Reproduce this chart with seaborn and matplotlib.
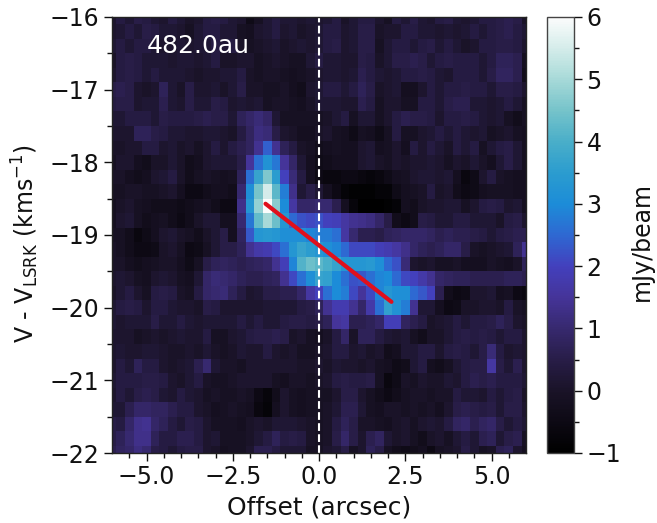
import matplotlib
matplotlib.use('Agg')
import matplotlib.pyplot as plt
import pandas as pd
import seaborn as sns
from matplotlib.colors import LinearSegmentedColormap

# pixel centres: offset -6..6 in 0.25 steps, velocity -16..-22 in 0.2 steps
offsets = [-6 + 0.25 * i for i in range(49)]
velocities = [-16 - 0.2 * i for i in range(31)]

flux = [
    [.1,.4,.2,.5,.4,.2,.1, .4,.2,.0,.1,.4,.5,.4, .2,.1,-.4,-.1,.2,.4,.2, .2,.1,.2,.1,.2,.4,.0, .2,.4,.4,.1,-.1,.4,.2, .5,.2,.1,.4,.5,.2,.1, .2,.4,.4,.5,.6,.5,.0],
    [.1,.2,.4,.2,.5,.4,.2, .2,.1,-.1,.2,.4,.4,.2, .2,-.1,-.2,.1,.2,.4,.1, .2,.0,.1,.2,.4,.4,.1, .2,.5,.5,.0,.1,.1,.4, .4,.2,.2,.1,.2,.1,.2, .4,.2,.4,.5,.6,.4,.2],
    [.2,.4,.2,.4,.4,.2,.1, .1,.2,.1,.2,.2,.4,.2, .4,.0,-.1,.0,.1,.2,.0, .1,.2,.1,.2,.4,.5,.1, .2,.5,.5,-.1,.2,.4,.4, .2,.4,.5,.2,.4,.2,.0, .1,.4,.4,.5,.5,.4,.1],
    [.0,.4,.5,.4,.2,.2,.2, .1,.2,.2,.1,.2,.4,.0, .0,.1,.1,-.1,.0,.1,.0, -.1,-.1,.2,.4,.2,.2,.1, .1,.5,.4,.0,.2,.5,.5, .6,.5,.2,.4,.5,.4,.4, .4,.2,.4,.7,.7,.6,-.2],
    [.1,.4,.5,.4,.2,.4,.2, .2,.2,.1,.0,.1,.1,.2, .2,.4,.0,-.1,.0,.0,-.1, -.2,-.1,.0,.1,.2,.2,.1, .2,.6,.4,.2,.1,.2,.4, .4,.5,.4,.2,.1,.4,.4, .4,.2,.5,.8,.8,.6,-.3],
    [.5,.6,.5,.1,.0,.1,.7, .2,.0,.5,.1,.1,.2,.0, .2,.5,.0,.0,-.1,-.1,.0, -.2,-.3,.1,.2,.4,.4,.2, .4,.7,.5,.0,.1,.2,-.2, -.2,.1,.4,.2,.4,.4,.5, .4,.4,.2,.5,.5,.4,.1],
    [.4,.5,.5,.1,.2,.2,.6, .2,.1,.5,.2,.2,.5,.4, .1,.2,.1,.2,-.1,.0,.0, -.1,-.2,.0,.2,.2,.2,.1, .1,.6,.4,-.1,.1,.1,-.1, -.1,.4,.4,.2,.5,.6,.6, .2,.2,.1,.2,.4,.2,-.1],
    [.2,.2,.4,.4,.4,.2,.5, .4,.4,.4,.5,.6,.5,.5, .2,.7,.9,1.1,.9,.2,-.1, -.1,-.1,-.1,-.1,.0,.2,.4, -.1,.2,.2,-.1,.1,.4,.6, .5,.5,.4,.1,.4,.4,.5, .4,.2,.1,.2,-.1,-.3,-.1],
    [.1,.1,.1,.7,.7,.5,.4, .2,.2,.1,.1,.2,.2,.1, .0,.4,.8,1.2,1.1,.5,.1, .0,-.2,-.2,.0,.1,-.1,-.2, -.4,-.1,-.2,-.4,-.1,.4,-.1, -.1,.1,.2,.4,.2,.4,.2, .1,.2,-.1,.0,.1,-.1,-.2],
    [.0,.0,.1,.1,.4,.4,.1, .2,.0,.1,-.1,.1,.4,.1, .4,.6,.8,1.4,2.4,1.4,.7, .4,.0,-.1,-.3,-.2,-.1,-.2, -.2,.1,.2,-.2,-.1,.1,-.2, .4,.1,.4,.2,.0,.4,.2, .4,-.1,.2,.4,.5,.2,-.2],
    [-.1,.1,.1,-.2,-.3,.0,.0, .2,.0,-.3,-.2,.1,.2,.2, .2,.5,1.5,2.6,3.2,2.7,1.5, .9,.2,-.2,-.4,-.3,-.2,-.2, -.2,.1,.2,.0,-.1,.1,.0, .1,.1,.2,.1,-.1,.1,.0, .2,.0,-.2,.2,.5,.2,-.2],
    [.0,.0,-.2,-.3,-.2,.1,.2, .4,.0,-.3,-.1,.0,-.1,-.2, -.1,.7,2.6,3.7,4.6,3.5,2.0, 1.1,.4,-.2,-.5,-.6,-.6,-.5, -.5,-.6,-.7,-.6,-.4,-.2,-.1, .1,.2,.2,.1,.2,-.2,-.6, -.4,.1,.4,.0,-.1,-.2,-.2],
    [-.1,-.1,.0,.0,-.1,-.1,.0, .1,-.2,-.5,-.5,-.3,-.2,-.2, -.3,1.0,3.1,4.5,5.5,4.2,2.8, 1.3,.2,.5,.2,-.2,-.5,-.8, -.9,-.9,-.9,-.8,-.8,-.4,-.2, -.1,.0,.4,.0,.1,-.3,-.5, -.4,-.2,-.1,-.1,-.1,-.2,-.2],
    [-.2,.0,.1,-.1,-.2,-.3,-.3, -.3,-.4,-.3,-.2,-.1,-.3,-.5, -.5,1.3,3.3,4.8,6.0,4.7,3.0, 1.6,.9,.9,1.0,1.0,.6,-.2, -.7,-1.0,-1.0,-1.0,-.9,-.8,-.2, -.3,.0,.1,.1,.2,.2,-.1, .1,.4,.5,.4,.1,.2,-.2],
    [-.2,.1,.2,-.1,-.3,-.2,-.1, -.3,-.5,-.3,.0,.2,.2,-.2, -.2,1.0,2.7,4.3,5.0,4.4,3.3, 2.5,2.2,2.1,2.2,2.0,1.9,1.6, 1.4,1.3,1.2,.9,.5,-.3,-.5, -.3,.5,.4,.2,.2,.4,.4, .2,.2,.2,.0,.4,.5,.1],
    [-.1,-.1,-.3,-.6,-.4,-.2,.1, .2,.0,-.1,-.3,.0,.2,.5, -.2,.8,2.3,3.3,3.4,3.3,3.1, 3.1,3.1,2.9,2.8,2.8,2.6,1.6, 1.0,.6,.6,.5,.7,.8,.9, .9,.9,.8,.6,.7,.6,.6, .5,.4,.2,.4,.5,.6,.6],
    [.0,-.1,-.3,-.5,-.5,-.4,.0, .1,-.1,-.5,-.4,-.1,.2,.5, .5,.7,1.4,1.7,1.8,2.1,2.6, 3.3,3.7,3.5,3.3,3.1,2.9,2.5, 2.1,2.1,2.1,1.9,1.8,1.6,1.3, .9,.7,.6,.7,.9,.9,.5, .0,-.1,.0,.1,.2,.7,1.4],
    [.0,.0,-.2,-.3,-.2,-.1,.0, .0,-.2,-.4,-.1,.5,.7,.8, .7,.6,.7,.8,.9,1.4,1.9, 2.9,4.1,4.4,4.2,4.0,3.7,3.3, 3.3,3.3,3.4,3.1,2.5,2.2,1.1, .1,.0,.1,-.1,-.1,.0,-.2, -.2,-.2,.0,-.1,-.2,.0,.7],
    [.1,.2,.1,-.1,-.2,.1,.2, .1,-.1,-.2,.2,.9,1.1,1.0, .9,.7,.6,.6,.7,.8,1.4, 2.1,2.6,3.1,3.7,3.6,3.0,2.6, 2.2,2.3,2.6,2.9,3.0,2.5,2.1, 2.0,1.7,1.4,.9,.8,.7,.7, .6,.6,.6,.6,.7,.7,.6],
    [.0,.2,.4,.1,-.1,.4,.5, .4,.0,-.1,.4,.9,1.0,1.1, .7,.4,.1,.2,.5,.5,.6, .6,.9,1.6,2.0,2.6,3.0,2.8, 2.1,1.5,2.1,2.9,3.3,3.1,3.1, 2.5,2.3,2.0,.6,-.3,-.5,-.4, .1,.1,.2,-.2,-.1,-.5,-.6],
    [.2,.4,.5,.4,.1,.4,.4, .2,.1,.1,.0,.5,.4,.1, .1,.1,.1,.1,.2,.2,.2, .2,.4,.5,.7,1.4,1.8,1.8, 1.4,.9,1.7,2.6,3.6,3.2,2.8, 1.4,.2,.2,-.2,-.5,-.4,.0, .0,.1,.1,.0,.4,.0,-.1],
    [.2,.1,.2,.2,.2,.5,.2, .2,.4,.2,.1,.2,.2,.2, .2,.4,.2,.4,.2,.2,.4, .5,.5,.4,.5,.7,1.5,1.6, .6,.6,.7,.9,1.9,1.9,.8, .6,.4,.0,.1,.2,.4,.2, .4,.4,.5,.7,.5,.1,.0],
    [.1,.1,.1,-.1,.0,.1,.0, .1,.2,.1,.1,.4,-.1,-.1, .1,.2,.4,.5,.5,.6,.5, .0,.1,-.1,-.2,.0,.4,.9, .0,.7,.7,.4,.2,.1,.2, -.1,-.3,.0,.0,.2,.4,.5, .4,.5,.4,.2,.4,.4,.1],
    [.1,.2,.1,.1,.2,.2,.1, .0,.0,.1,.0,.2,.0,-.1, .0,.2,.1,.1,.4,.1,.0, .1,-.1,-.1,.0,.1,.4,.4, .1,.2,.0,.1,-.3,-.2,.2, .2,.4,.4,.1,.4,.5,.4, .2,.5,1.1,.4,.1,.2,.1],
    [.1,.4,.2,.7,.4,.4,.1, .0,.1,.2,.6,1.0,.2,.0, .0,-.1,.1,.1,.1,.1,.1, .1,.0,.0,.1,.0,.2,.1, .1,.0,.1,-.1,-.2,-.4,-.3, .2,.4,-.2,-.3,-.1,.2,.4, .5,.5,1.6,.5,.2,.6,.1],
    [.2,.4,.4,.4,.5,.5,.4, .1,.0,.2,.4,.0,-.1,-.1, .0,.1,.1,.1,.1,-.1,-.2, .0,.0,-.1,.0,.1,.4,.5, .4,.4,.5,-.1,-.6,-.4,.0, -.1,.1,.0,.0,.2,.1,.4, .6,.5,.6,.4,.4,.4,.2],
    [.1,.4,.2,.5,.6,.5,.2, .1,.4,.2,.1,-.1,.0,-.1, -.1,.0,-.1,-.5,-.7,-.3,.1, -.1,-.2,-.1,-.1,-.1,.1,.5, .5,.1,-.1,-.3,-.5,-.3,-.1, .0,.0,-.1,.0,.0,.4,.2, .2,.1,.4,.2,.4,.5,.0],
    [.2,.2,.6,.9,.9,.8,.8, .6,.4,.4,.1,.0,-.2,-.1, .0,-.1,-.2,-.6,-.8,-.2,.1, -.1,-.2,-.1,-.1,.0,.2,.6, .6,.2,-.1,-.2,.0,.0,-.1, .0,-.1,.0,-.2,.1,.5,.6, .5,.4,.5,.2,.5,.5,.1],
    [.5,.4,.9,1.3,1.4,.9,.7, .4,.2,.5,.4,.1,-.1,-.1, -.1,-.2,.0,.1,.0,.2,.2, .2,.1,.0,-.1,.0,.4,.7, .5,.0,.0,-.1,-.2,.0,.1, -.1,.1,.2,.1,.4,.8,.9, .6,.8,.9,.5,.2,.4,.2],
    [.5,.7,1.0,1.3,1.3,.7,.4, .4,.6,.6,.4,.1,.2,-.1, -.1,-.1,.0,.2,.4,.7,.4, .5,.4,.0,-.1,.0,.5,.9, .5,.1,.6,.8,.2,.0,.1, -.1,-.3,.0,.1,-.1,.2,.4, .2,.6,.7,.2,.5,.6,-.1],
    [.6,.8,.9,1.2,1.0,.5,.4, .2,.4,.5,.5,.1,.0,-.2, -.1,-.1,.1,.6,.6,.4,.2, .2,.2,-.1,-.1,.1,.2,.5, -.1,.1,.7,.5,-.1,-.3,-.4, -.3,-.2,-.5,-.1,.0,.1,.5, .2,-.1,.0,.6,.7,.1,-.2],
]

fit_offset = [-1.55, 2.1]
fit_velocity = [-18.57, -19.92]
center_offset = 0.0
region_label = '482.0au'

x_major = [-5.0, -2.5, 0.0, 2.5, 5.0]
x_minor = [-5.5, -4.5, -4.0, -3.5, -3.0, -2.0, -1.5, -1.0, -0.5, 0.5, 1.0, 1.5, 2.0, 3.0, 3.5, 4.0, 4.5, 5.5]
y_major = [-16, -17, -18, -19, -20, -21, -22]
y_minor = [-16.5, -17.5, -18.5, -19.5, -20.5, -21.5]
cbar_major = [-1, 0, 1, 2, 3, 4, 5, 6]
cbar_minor = [-0.5, 0.5, 1.5, 2.5, 3.5, 4.5, 5.5]

freeze = LinearSegmentedColormap.from_list('freeze_like', [
    (0 / 14, '#000000'), (2 / 14, '#1a1328'), (3 / 14, '#281d48'), (4 / 14, '#37296f'),
    (5 / 14, '#453499'), (6 / 14, '#4340bd'), (7 / 14, '#2e68d2'), (8 / 14, '#1c8cd8'),
    (9 / 14, '#2b9ccf'), (10 / 14, '#49aec9'), (11 / 14, '#75c3ca'), (12 / 14, '#a6d9d8'),
    (13 / 14, '#d4ecea'), (14 / 14, '#fbfcfc')])


def to_col(x):
    return (x + 6) / 0.25 + 0.5


def to_row(v):
    return (-16 - v) / 0.2 + 0.5


sns.set_style('ticks', {'text.color': '#111111', 'axes.labelcolor': '#111111',
                        'xtick.color': '#111111', 'ytick.color': '#111111'})
plt.rcParams['font.family'] = ['DejaVu Sans']

fig = plt.figure(figsize=(6.57, 5.23), dpi=100)
ax = fig.add_axes([112 / 657, 70 / 523, 414 / 657, 436 / 523])
cax = fig.add_axes([547 / 657, 70 / 523, 27 / 657, 436 / 523])

table = pd.DataFrame(flux, index=velocities, columns=offsets)
sns.heatmap(table, ax=ax, cbar_ax=cax, cmap=freeze, vmin=-1, vmax=6,
            xticklabels=False, yticklabels=False)

ax.set_xlim(to_col(-6), to_col(6))
ax.set_ylim(to_row(-22), to_row(-16))
for side in ax.spines.values():
    side.set_visible(True)
    side.set_linewidth(1.0)
    side.set_color('#222222')

ax.axvline(to_col(center_offset), color='white', linestyle='--', linewidth=1.5)
ax.plot([to_col(x) for x in fit_offset], [to_row(v) for v in fit_velocity],
        color='#e0101c', linewidth=3)
ax.text(to_col(-5.0), to_row(-16.4), region_label, color='white', fontsize=18,
        ha='left', va='center')

ax.set_xticks([to_col(x) for x in x_major])
ax.set_xticklabels(['\u2212%.1f' % abs(x) if x < 0 else '%.1f' % x for x in x_major])
ax.set_xticks([to_col(x) for x in x_minor], minor=True)
ax.set_yticks([to_row(v) for v in y_major])
ax.set_yticklabels(['\u2212%d' % abs(v) for v in y_major], rotation=0)
ax.set_yticks([to_row(v) for v in y_minor], minor=True)
ax.tick_params(axis='both', which='major', labelsize=17, length=6, width=1, pad=3)
ax.tick_params(axis='both', which='minor', length=3.5, width=1)
ax.set_xlabel('Offset (arcsec)', fontsize=18, labelpad=4)
ax.set_ylabel(r'V - V$_{\mathrm{LSRK}}$ (kms$^{-1}$)', fontsize=17, labelpad=6, y=0.48)

cbar = ax.collections[0].colorbar
cbar.outline.set_visible(True)
cbar.outline.set_linewidth(1.0)
cbar.outline.set_edgecolor('#444444')
cbar.set_ticks(cbar_major)
cbar.set_ticklabels(['\u22121'] + [str(t) for t in cbar_major[1:]])
cbar.ax.set_yticks(cbar_minor, minor=True)
cbar.ax.tick_params(which='major', labelsize=17, length=6, width=1, pad=3)
cbar.ax.tick_params(which='minor', length=3.5, width=1)
cbar.set_label('mJy/beam', fontsize=17, labelpad=6, y=0.485)

fig.savefig('out.png', dpi=100)
